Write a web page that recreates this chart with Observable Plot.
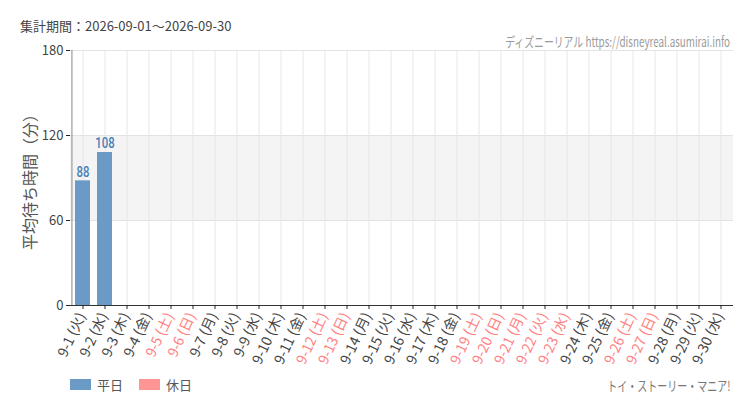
<!DOCTYPE html>
<html><head><meta charset="utf-8">
<script src="https://cdn.jsdelivr.net/npm/d3@7"></script>
<script src="https://cdn.jsdelivr.net/npm/@observablehq/plot@0.6"></script>
<style>
body{margin:0;background:#fff;font-family:"Noto Sans CJK JP","Noto Sans",sans-serif;}
#wrap{position:relative;width:750px;height:410px;}
.t{position:absolute;white-space:nowrap;}
</style></head><body>
<div id="wrap">
<div class="t" id="title" style="left:20px;top:16px;font-size:13px;color:#444;"></div>
<div class="t" id="credit" style="right:20px;top:31px;font-size:13.5px;color:#9a9a9a;transform:scaleX(0.73);transform-origin:right center;"></div>
<div class="t" id="attr" style="right:20px;top:375px;font-size:13.5px;color:#777;transform:scaleX(0.74);transform-origin:right center;"></div>
<div class="t" id="legend" style="left:70px;top:375px;font-size:13px;color:#555;display:flex;gap:16px;align-items:center;"></div>
<div id="chart" style="position:absolute;left:0;top:0;"></div>
</div>
<script>
const titleText = "集計期間：2026-09-01～2026-09-30";
const creditText = "ディズニーリアル https://disneyreal.asumirai.info";
const attrText = "トイ・ストーリー・マニア!";
const yLabel = "平均待ち時間（分）";
const days = ["9-1 (火)","9-2 (水)","9-3 (木)","9-4 (金)","9-5 (土)","9-6 (日)","9-7 (月)","9-8 (火)","9-9 (水)","9-10 (木)","9-11 (金)","9-12 (土)","9-13 (日)","9-14 (月)","9-15 (火)","9-16 (水)","9-17 (木)","9-18 (金)","9-19 (土)","9-20 (日)","9-21 (月)","9-22 (火)","9-23 (水)","9-24 (木)","9-25 (金)","9-26 (土)","9-27 (日)","9-28 (月)","9-29 (火)","9-30 (水)"];
const holidays = [false,false,false,false,true,true,false,false,false,false,false,true,true,false,false,false,false,false,true,true,true,true,true,false,false,true,true,false,false,false];
const waits = [88,108,null,null,null,null,null,null,null,null,null,null,null,null,null,null,null,null,null,null,null,null,null,null,null,null,null,null,null,null];
const yTicks = [0,60,120,180];
const bandRange = [60,120];
const legendItems = [{label:"平日",color:"#6b9ac7"},{label:"休日",color:"#ff9494"}];

document.getElementById("title").textContent = titleText;
document.getElementById("credit").textContent = creditText;
document.getElementById("attr").textContent = attrText;
const lg = document.getElementById("legend");
for (const it of legendItems) {
  const s = document.createElement("span");
  s.style.display = "flex"; s.style.alignItems = "center"; s.style.gap = "6px";
  s.innerHTML = `<span style="display:inline-block;width:21px;height:11px;background:${it.color}"></span><span>${it.label}</span>`;
  lg.appendChild(s);
}

const data = days.map((d,i)=>({day:d, v:waits[i], hol:holidays[i]}));
const bars = data.filter(d=>d.v!=null);
const holColor = "#ff8080", wkColor = "#444";
const W = 750, ML = 70, MR = 17;
const step = (W - ML - MR) / days.length;

const chart = Plot.plot({
  width:W, height:410,
  marginTop:50, marginBottom:105, marginLeft:ML, marginRight:MR,
  style:{background:"transparent", fontFamily:"'Noto Sans CJK JP','Noto Sans',sans-serif"},
  x:{domain:days, paddingInner:0.32, paddingOuter:0.16, label:null, axis:null},
  y:{domain:[0,180], label:null, axis:null},
  marks:[
    Plot.rectY([bandRange], {y1:d=>d[0], y2:d=>d[1], fill:"#f4f4f4"}),
    Plot.gridY(yTicks.slice(1), {stroke:"#e3e3e3", strokeOpacity:1}),
    Plot.gridX(days, {stroke:"#e6e6e6", strokeOpacity:1}),
    Plot.barY(bars, {x:"day", y:"v", fill:d=>d.hol?"#ff9494":"#6b9ac7"}),
    Plot.text(bars, {x:"day", y:"v", text:d=>String(d.v), dy:-9, fill:"#4a80b8", fontSize:15, fontWeight:500, fontFamily:"Roboto, sans-serif", className:"vlab"}),
    Plot.ruleY([0], {stroke:"#333"}),
    Plot.ruleX([days[0]], {dx:-step/2, stroke:"#888"}),
    Plot.axisX(days, {tickSize:4, text:null, stroke:"#222"}),
    Plot.text(data, {x:"day", frameAnchor:"bottom", dy:10, dx:3, rotate:-65, textAnchor:"end", text:"day", fill:d=>d.hol?holColor:wkColor, fontSize:14}),
    Plot.axisY(yTicks, {anchor:"left", tickSize:4, tickPadding:3, fontSize:13, fill:"#444", stroke:"#222", label:null}),
    Plot.text([yLabel], {frameAnchor:"left", dx:-40, rotate:-90, textAnchor:"middle", fontSize:16, fill:"#555", text:d=>d})
  ]
});
document.getElementById("chart").appendChild(chart);
d3.select(chart).selectAll(".vlab text").each(function(){
  const t = d3.select(this);
  const tr = t.attr("transform") || "";
  t.attr("transform", tr + " scale(0.76,1)");
  const x = +t.attr("x") || 0;
  if (t.attr("x") != null) t.attr("x", x/0.76);
});
</script>
</body></html>
